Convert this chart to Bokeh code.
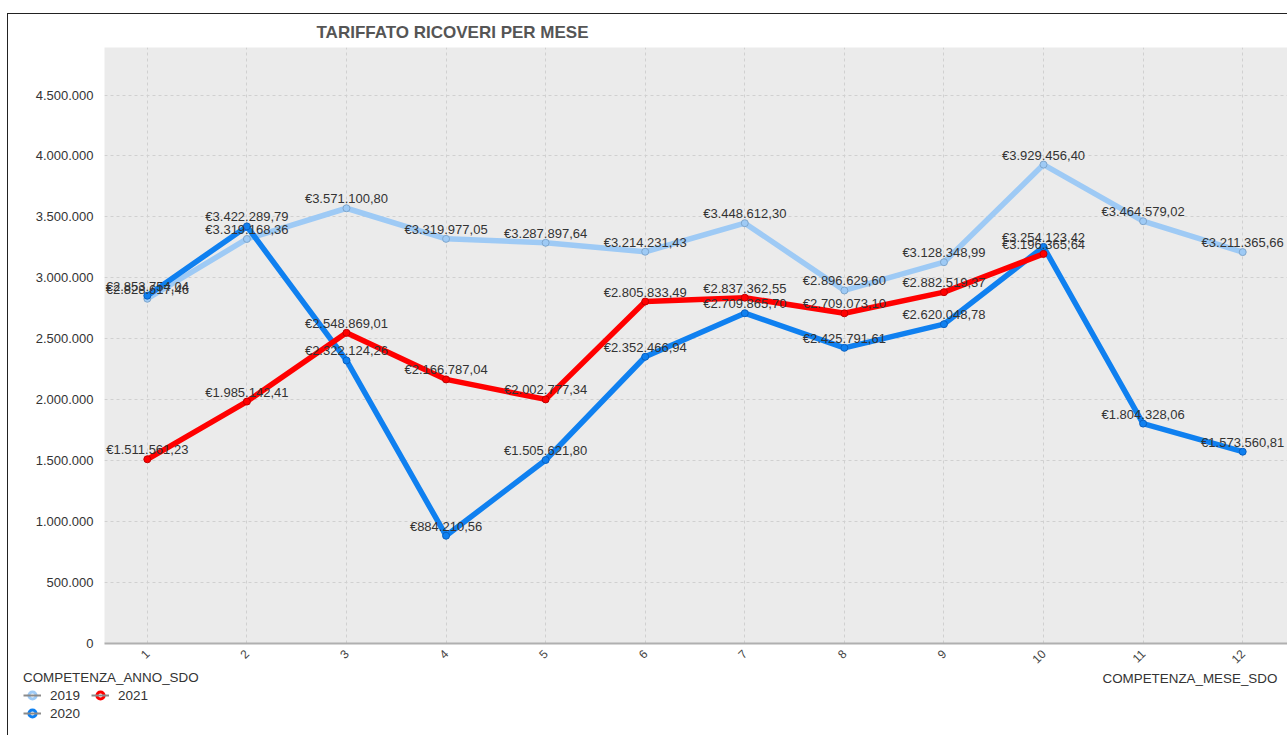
from bokeh.plotting import figure
from bokeh.layouts import column
from bokeh.models import (ColumnDataSource, Range1d, FixedTicker, Legend, LegendItem, Title, Label)
from bokeh.core.properties import value
from bokeh.embed import file_html
from bokeh.resources import INLINE

months = [1, 2, 3, 4, 5, 6, 7, 8, 9, 10, 11, 12]
v2019 = [2828617.46, 3319168.36, 3571100.80, 3319977.05, 3287897.64, 3214231.43,
         3448612.30, 2896629.60, 3128348.99, 3929456.40, 3464579.02, 3211365.66]
v2020 = [2853754.04, 3422289.79, 2322124.26, 884210.56, 1505621.80, 2352466.94,
         2709865.70, 2425791.61, 2620048.78, 3254123.42, 1804328.06, 1573560.81]
m2021 = [1, 2, 3, 4, 5, 6, 7, 8, 9, 10]
v2021 = [1511561.23, 1985142.41, 2548869.01, 2166787.04, 2002777.34, 2805833.49,
         2837362.55, 2709073.10, 2882519.37, 3196365.64]
y_ticks = [0, 500000, 1000000, 1500000, 2000000, 2500000, 3000000, 3500000, 4000000, 4500000]
y_tick_labels = ["0", "500.000", "1.000.000", "1.500.000", "2.000.000", "2.500.000",
                 "3.000.000", "3.500.000", "4.000.000", "4.500.000"]

FONT = "Liberation Sans"


def eur(v):
    s = f"{v:,.2f}".replace(",", "X").replace(".", ",").replace("X", ".")
    return "€" + s


p = figure(width=1279, height=656, output_backend="svg", toolbar_location=None,
           x_range=Range1d(0.57, 12.45), y_range=Range1d(0, 4890000),
           min_border_left=96, min_border_right=0, min_border_top=33, min_border_bottom=27)
p.background_fill_color = "#ebebeb"
p.border_fill_color = "white"
p.outline_line_color = None

p.title = Title(text="TARIFFATO RICOVERI PER MESE", align="left", offset=212,
                text_font=FONT, text_font_size="17px", text_font_style="bold",
                text_color="#555555", standoff=12)

p.xgrid.ticker = FixedTicker(ticks=months)
p.xgrid.grid_line_color = "#d0d0d0"
p.xgrid.grid_line_dash = "3 3"
p.ygrid.grid_line_color = "#d0d0d0"
p.ygrid.grid_line_dash = "3 3"

p.yaxis.ticker = FixedTicker(ticks=y_ticks)
p.yaxis.major_label_overrides = {t: l for t, l in zip(y_ticks, y_tick_labels)}
p.yaxis.axis_line_color = None
p.yaxis.major_tick_line_color = None
p.yaxis.major_tick_out = 0
p.yaxis.minor_tick_line_color = None
p.yaxis.major_label_text_font = FONT
p.yaxis.major_label_text_font_size = "13px"
p.yaxis.major_label_text_color = "#333333"
p.yaxis.major_label_standoff = 11

p.xaxis.ticker = FixedTicker(ticks=months)
p.xaxis.major_label_overrides = {m: str(m) for m in months}
p.xaxis.axis_line_color = "#b0b0b0"
p.xaxis.axis_line_width = 2
p.xaxis.major_tick_line_color = None
p.xaxis.major_tick_out = 0
p.xaxis.minor_tick_line_color = None
p.xaxis.major_label_orientation = 0.785
p.xaxis.major_label_text_font = FONT
p.xaxis.major_label_text_font_size = "12px"
p.xaxis.major_label_text_color = "#444444"
p.xaxis.major_label_standoff = 8

series = [("2019", months, v2019, "#9ecaf5", "#7fa6cc"),
          ("2020", months, v2020, "#0f80f0", "#0a60c0"),
          ("2021", m2021, v2021, "#ff0000", "#c00000")]

for name, xs, ys, col, edge in series:
    src = ColumnDataSource(dict(x=xs, y=ys))
    p.line("x", "y", source=src, line_color=col, line_width=5.5, line_join="round")
    p.scatter("x", "y", source=src, size=7, fill_color=col, line_color=edge, line_width=1)

for name, xs, ys, col, edge in series:
    src = ColumnDataSource(dict(x=xs, y=ys, lab=[eur(v) for v in ys]))
    p.text("x", "y", text="lab", source=src, text_align="center", text_baseline="bottom",
           y_offset=-2, text_font=value(FONT), text_font_size="13px", text_color="#333333")

# legend strip below the chart (series drawn out of view; only the legend shows)
q = figure(width=1279, height=65, output_backend="svg", toolbar_location=None,
           x_range=Range1d(-100, -99), y_range=Range1d(-100, -99),
           min_border_left=15, min_border_right=0, min_border_top=0, min_border_bottom=0)
try:
    q.frame_align = False
except Exception:
    pass
q.axis.visible = False
q.grid.visible = False
q.outline_line_color = None
q.background_fill_color = "white"
q.border_fill_color = "white"

items = []
for name, xs, ys, col, edge in series:
    src = ColumnDataSource(dict(x=xs, y=ys))
    sc = q.scatter("x", "y", source=src, size=13, fill_color="white", line_color=col, line_width=3)
    ln = q.line("x", "y", source=src, line_color="#8a8a8a", line_width=2)
    items.append(LegendItem(label=name, renderers=[sc, ln]))

legend = Legend(items=items, title="COMPETENZA_ANNO_SDO", location="top_left", nrows=2,
                orientation="vertical", padding=0, margin=0, spacing=0,
                label_text_font=FONT, label_text_font_size="13.5px", label_text_color="#333333",
                title_text_font=FONT, title_text_font_size="13.4px", title_text_color="#333333",
                title_text_font_style="normal", title_standoff=1,
                glyph_width=18, glyph_height=18, label_standoff=9, label_height=18,
                label_width=41,
                background_fill_alpha=0, border_line_color=None)
q.add_layout(legend, "center")

xl = Label(x=1079, y=57, x_units="screen", y_units="screen", text="COMPETENZA_MESE_SDO",
           text_font=FONT, text_font_size="13.4px", text_color="#333333", text_baseline="middle")
q.add_layout(xl)

layout = column(p, q, spacing=0)
layout.styles = {"border-left": "1px solid #222", "border-top": "1px solid #222",
                 "margin-left": "7px", "margin-top": "13px"}

open("out.html", "w").write(file_html(layout, INLINE))
